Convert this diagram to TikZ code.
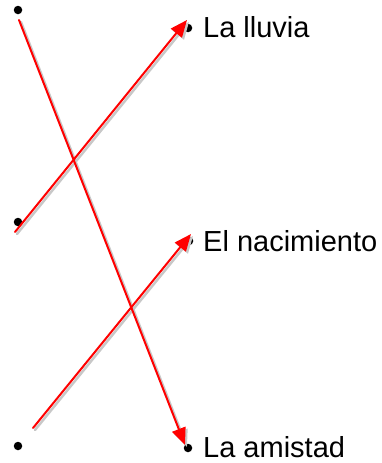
\documentclass[tikz,border=0pt]{standalone}
\usepackage{fontspec}
\setmainfont{Liberation Sans}
\usetikzlibrary{arrows.meta}
\definecolor{linkRed}{HTML}{FF0000}
\definecolor{linkShade}{HTML}{C8C8C8}

\begin{document}
\begin{tikzpicture}[x=1pt, y=-1pt, line cap=round, line join=round,
  dot/.style={circle, fill=black, inner sep=0pt, minimum size=8.5pt},
  word/.style={anchor=base west, inner sep=0pt, font=\fontsize{29}{31}\selectfont},
  link/.style={linkRed, line width=2pt, -{Triangle[length=17pt, width=14pt]}},
  shade/.style={linkShade, line width=2.5pt, -{Triangle[length=17pt, width=14pt]},
    transform canvas={xshift=2pt, yshift=-2pt}}]
  \useasboundingbox (0,0) rectangle (382,463);
  % Left column bullets
  \node[dot] (l1) at (18,10) {};
  \node[dot] (l2) at (18,222) {};
  \node[dot] (l3) at (18,446) {};
  % Right column bullets and words
  \node[dot] (r1) at (188,28) {};
  \node[dot] (r2) at (189,241) {};
  \node[dot] (r3) at (188,448) {};
  \node[word] (w1) at (203,37) {La lluvia};
  \node[word] (w2) at (203,251) {El nacimiento};
  \node[word] (w3) at (203,457) {La amistad};
  % Link ends
  \coordinate (s1) at (19,20);
  \coordinate (e1) at (185,445);
  \coordinate (s2) at (15,232);
  \coordinate (e2) at (187,20);
  \coordinate (s3) at (33,428);
  \coordinate (e3) at (191,234);
  % Shadows first, then the red links
  \draw[shade] (s1) -- (e1);
  \draw[shade] (s2) -- (e2);
  \draw[shade] (s3) -- (e3);
  \draw[link] (s1) -- (e1);
  \draw[link] (s2) -- (e2);
  \draw[link] (s3) -- (e3);
\end{tikzpicture}
\end{document}
